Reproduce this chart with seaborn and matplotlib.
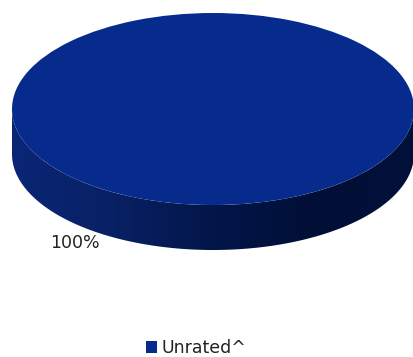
import numpy as np
import matplotlib
matplotlib.use('Agg')
import matplotlib.pyplot as plt
import seaborn as sns
from matplotlib.colors import LinearSegmentedColormap
from matplotlib.patches import Polygon

sns.set_theme(style='white')
plt.rcParams['font.family'] = ['DejaVu Sans']

categories = ["Unrated^"]
values = [100]
colors = ["#062b8c"]

W, H = 414, 357
cx, cy = 213, 109      # centre of the top ellipse, pixels
rx, ry = 201, 96       # semi axes, pixels
depth = 45 / ry        # side height in data units

fig = plt.figure(figsize=(W / 100, H / 100), dpi=100)
ax = fig.add_axes([0, 0, 1, 1])

# startangle chosen so the full-circle wedge angles stay exact floats
wedges, texts, autotexts = ax.pie(
    values, colors=colors, startangle=63.75, autopct='%.0f%%',
    pctdistance=1.556, radius=1, wedgeprops={'linewidth': 0},
    textprops={'fontsize': 12.5, 'color': '#222222'}, frame=False)

# squash the circle into an ellipse
ax.set_aspect('auto')
ax.set_xlim((0 - cx) / rx, (W - cx) / rx)
ax.set_ylim(-(H - cy) / ry, cy / ry)

# side band of the pie (front half)
t = np.linspace(np.pi, 2 * np.pi, 200)
top_arc = np.column_stack([np.cos(t), np.sin(t)])
bot_arc = np.column_stack([np.cos(t[::-1]), np.sin(t[::-1]) - depth])
side = Polygon(np.vstack([top_arc, bot_arc]), closed=True,
               facecolor='none', edgecolor='none')
ax.add_patch(side)
side_cmap = LinearSegmentedColormap.from_list(
    'side', ['#0a2675', '#082064', '#03164a', '#010f36', '#02113a'])
grad = np.linspace(0, 1, 256).reshape(1, -1)
im = ax.imshow(grad, cmap=side_cmap, aspect='auto',
               extent=(-1, 1, -1 - depth, 0), zorder=0.5)
im.set_clip_path(side)
for w in wedges:
    w.set_zorder(1)
for tx in autotexts:
    tx.set_zorder(2)

leg = fig.legend(wedges, categories, loc='center',
                 bbox_to_anchor=(196 / W, 1 - 348 / H), frameon=False,
                 fontsize=12.5, handlelength=0.65, handleheight=0.65,
                 handletextpad=0.25, labelcolor='#222222')

fig.savefig('out.png', dpi=100)
